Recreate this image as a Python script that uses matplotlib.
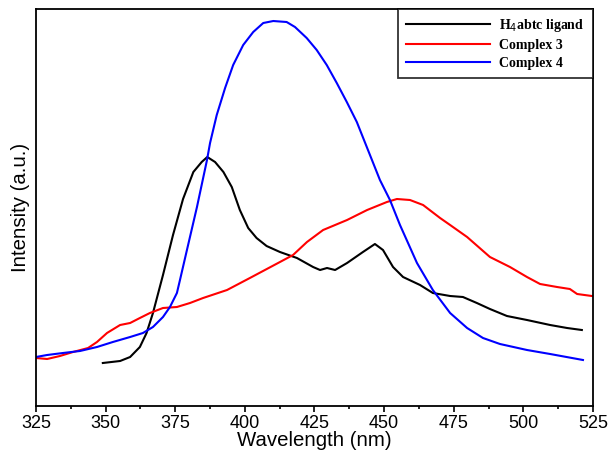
import matplotlib
matplotlib.use("Agg")
import matplotlib.pyplot as plt
from matplotlib.ticker import MultipleLocator

# emission spectra (intensity in arbitrary units)
wl_ligand = [349, 355.2, 358.8, 362.3, 364.7, 367, 370.6, 374.2, 377.8,
             381.5, 384.5, 386.5, 389.3, 392.3, 395.3, 398.2, 401.2, 404.2, 407.8,
             412.6, 418.7, 424.5, 427, 429.5, 432.4, 436.7, 442.4, 446.7, 449.6,
             453.2, 456.8, 462.9, 467.5, 473.7, 478.3, 483.3, 488, 494.1, 501.3,
             509.6, 515.7, 521]
i_ligand = [44, 46, 50, 60, 74, 94, 132, 172, 208,
            235, 245, 250, 245, 235, 220, 197, 179, 169, 161,
            155, 149, 140, 137, 139, 137, 144, 155, 163, 157,
            140, 130, 122, 114, 111, 110, 104, 98, 91, 87,
            82, 79, 77]

wl_c3 = [325, 329, 333.6, 338.3, 343.7, 346.9, 350.5, 355.2, 358.8, 362.3,
         365.9, 370.6, 375.6, 380.3, 385, 393.6, 401.8, 412.6, 417.3, 422.3,
         428.1, 436.7, 443.9, 451, 454.6, 459.3, 464, 470.1, 473.7, 479.8,
         488, 495.2, 501.3, 506, 512.1, 516.7, 519.3, 524.6]
i_c3 = [49, 48, 51, 55, 59, 65, 74, 82, 84, 89,
        94, 99, 100, 104, 109, 117, 129, 145, 152, 165,
        177, 187, 197, 205, 208, 207, 202, 189, 182, 170,
        150, 140, 130, 123, 120, 118, 113, 111]

wl_c4 = [325, 329, 334.7, 340.8, 346.9, 352.6, 358.8, 363.4, 367, 370.6,
         373.1, 375.6, 376.7, 379.2, 382.8, 386.4, 387.5, 389.9, 392.9, 395.8,
         399.4, 403, 406.6, 410.2, 415, 418, 422.2, 425.8, 429.4, 433,
         436.6, 440.2, 448.5, 452.1, 455.7, 461.8, 467.5, 473.7, 479.8, 485.5,
         491.6, 501.3, 509.6, 521.4]
i_c4 = [50, 52, 54, 56, 60, 65, 70, 74, 80, 90,
        100, 114, 127, 157, 200, 247, 264, 292, 319, 342,
        362, 375, 384, 386, 385, 380, 369, 357, 342, 324,
        305, 285, 227, 207, 182, 144, 117, 94, 79, 69,
        63, 57, 53, 47]

plt.rcParams['font.family'] = ['Liberation Sans', 'DejaVu Sans']

fig = plt.figure(figsize=(6.09, 4.55), dpi=100)
ax = fig.add_axes([0.0591, 0.1077, 0.9146, 0.8725])

ax.plot(wl_ligand, i_ligand, color='black', lw=1.5, label=r'H$_4$abtc ligand')
ax.plot(wl_c3, i_c3, color='#ff0000', lw=1.5, label='Complex 3')
ax.plot(wl_c4, i_c4, color='#0000ff', lw=1.5, label='Complex 4')

ax.set_xlim(325, 525)
ax.set_ylim(1, 398)
ax.xaxis.set_major_locator(MultipleLocator(25))
ax.xaxis.set_minor_locator(MultipleLocator(12.5))
ax.tick_params(axis='x', which='major', direction='out', length=4.5, width=1.2,
               labelsize=13, pad=2, top=False)
ax.tick_params(axis='x', which='minor', direction='out', length=2.5, width=1.2, top=False)
ax.set_yticks([])
for s in ax.spines.values():
    s.set_linewidth(1.3)

ax.set_xlabel('Wavelength (nm)', fontsize=14.7, labelpad=-1)
ax.set_ylabel('Intensity (a.u.)', fontsize=14.7, labelpad=4)

leg = ax.legend(loc='upper right', borderaxespad=0, fancybox=False,
                edgecolor='black', handlelength=6.0, handletextpad=0.7,
                labelspacing=0.35, borderpad=0.6,
                prop={'family': 'Liberation Serif', 'weight': 'bold', 'size': 10})
leg.get_frame().set_linewidth(1.3)

fig.savefig('out.png', dpi=100)
